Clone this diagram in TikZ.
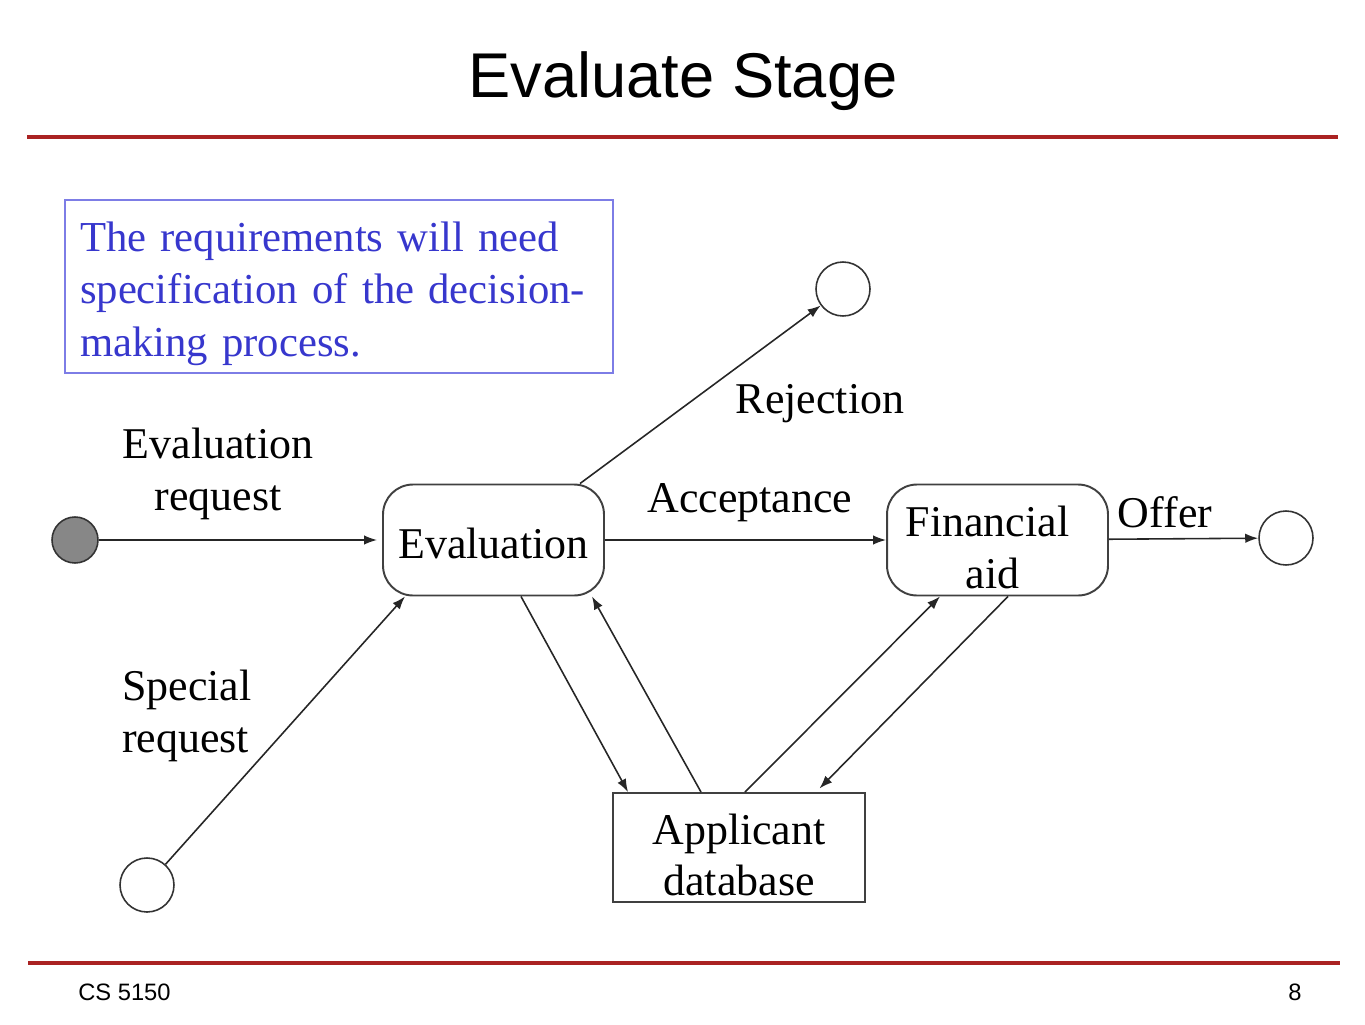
\documentclass[tikz,border=0pt]{standalone}
\usepackage{fontspec}
\setmainfont{Liberation Serif}
\newfontfamily\arialfont{Liberation Sans}
\usepackage{tikz}
\usetikzlibrary{arrows.meta}

\definecolor{slidered}{RGB}{170,34,34}
\definecolor{noteblue}{RGB}{55,55,205}
\definecolor{noteframe}{RGB}{125,125,230}
\newcommand{\labelfont}{\fontsize{25}{29.5}\selectfont}
\newcommand{\dn}[1]{\raisebox{-0.15cm}[\height][\depth]{#1}}

\tikzset{
    statebox/.style={shape=rectangle, rounded corners=0.6cm, draw=black!75, line width=1.1pt,
        minimum width=4.42cm, minimum height=2.22cm, align=center, font=\labelfont},
    databox/.style={shape=rectangle, draw=black!75, line width=1.1pt,
        minimum width=5.04cm, minimum height=2.18cm, align=center, font=\labelfont},
    termcircle/.style={shape=circle, draw=black!80, line width=0.9pt, minimum size=1.08cm, inner sep=0pt},
    flow/.style={-{Latex[length=0.26cm,width=0.19cm]}, line width=0.9pt, color=black!85},
    lbl/.style={font=\labelfont, align=center, inner sep=0pt},
    notebox/.style={shape=rectangle, draw=noteframe, line width=1.1pt, text=noteblue,
        minimum width=10.96cm, minimum height=3.46cm, text width=10.36cm, inner xsep=0.3cm,
        text height=25pt, align=left, font=\fontsize{24.3}{30}\selectfont},
}

\begin{document}
\begin{tikzpicture}[x=0.02cm, y=-0.02cm]
    \useasboundingbox (0,0) rectangle (1365,1024);
    \node[font=\arialfont\fontsize{36}{40}\selectfont] at (683,81) (Title) {Evaluate Stage};
    \draw[slidered, line width=0.08cm] (27,137) -- (1338,137);
    \draw[slidered, line width=0.08cm] (28,963) -- (1340,963);
    \node[font=\arialfont\fontsize{13.5}{16}\selectfont, anchor=west, inner sep=0pt] at (78,992) (Course) {CS 5150};
    \node[font=\arialfont\fontsize{13.5}{16}\selectfont, anchor=east, inner sep=0pt] at (1302,992) (Page) {8};

    \node[notebox] at (339,286.5) (Note) {The requirements will need\\specification of the decision-\\making process.};

    \node[termcircle, fill=black!47, minimum size=0.92cm] at (75,540) (Start) {};
    \node[statebox] at (493.5,540) (Eval) {\raisebox{-0.06cm}[\height][\depth]{Evaluation}};
    \node[statebox] at (997.5,540) (Fin) {\dn{Financial}\hspace*{0.4cm}\\\dn{aid}\hspace*{0.2cm}};
    \node[databox] at (739,847.5) (Appl) {\dn{Applicant}\\\dn{database}};
    \node[termcircle] at (843,289) (Rej) {};
    \node[termcircle] at (1286,538) (Offer) {};
    \node[termcircle] at (147,885) (Spec) {};

    \path [flow] (Start) edge[shorten >=0.1cm] (Eval);
    \path [flow] ([xshift=1.73cm]Eval.north) edge (Rej);
    \path [flow] (Eval) edge (Fin);
    \path [flow] (Fin) edge (Offer);
    \path [flow] (Spec) edge ([xshift=-1.77cm]Eval.south);
    \path [flow] ([xshift=0.55cm]Eval.south) edge ([xshift=-2.22cm]Appl.north);
    \path [flow] ([xshift=-0.76cm]Appl.north) edge ([xshift=1.97cm]Eval.south);
    \path [flow] ([xshift=0.12cm]Appl.north) edge ([xshift=-1.15cm]Fin.south);
    \path [flow] ([xshift=0.21cm]Fin.south) edge[shorten >=0.1cm] ([xshift=1.54cm]Appl.north);

    \node[lbl] at (218,474) (LReq) {Evaluation\\request};
    \node[lbl] at (820,404) (LRej) {Rejection};
    \node[lbl] at (750,503) (LAcc) {Acceptance};
    \node[lbl] at (1165,512) (LOff) {Offer};
    \node[lbl, align=left, anchor=west] at (122,716) (LSpec) {Special\\request};
\end{tikzpicture}
\end{document}
